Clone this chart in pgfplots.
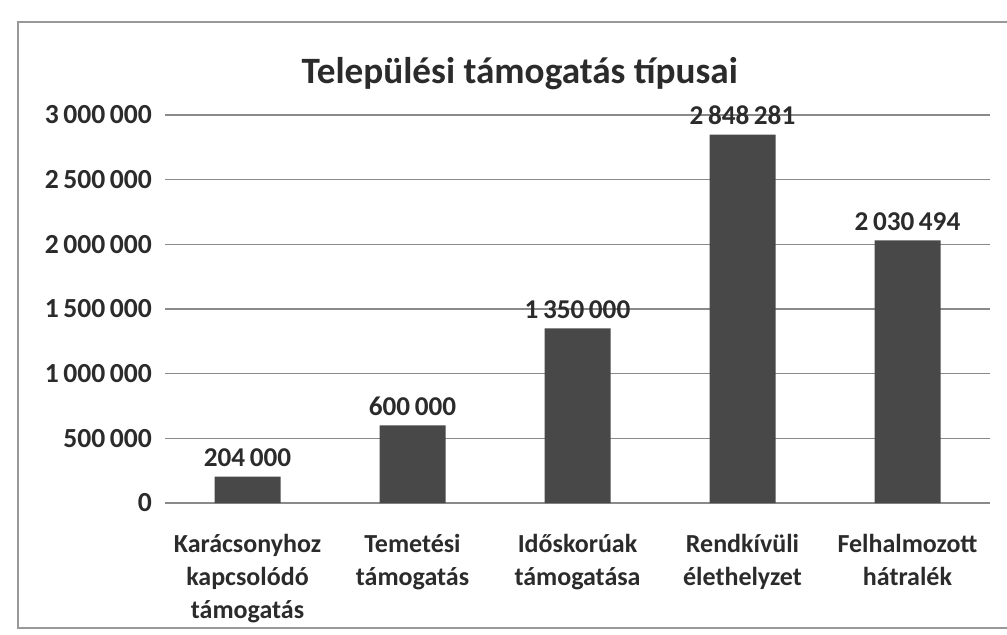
\documentclass[border=0pt]{standalone}
\usepackage{fontspec}
\setmainfont{Carlito}
\usepackage{pgfplots}
\pgfplotsset{compat=1.18}
\definecolor{barc}{HTML}{484848}
\definecolor{gridc}{HTML}{8A8A8A}
\definecolor{txt}{HTML}{2B2B2B}
\begin{document}
\begin{tikzpicture}
\useasboundingbox (0,0) rectangle (503.5pt,317pt);
\draw[gray!80, line width=0.6pt] (9pt,3pt) rectangle (520pt,306pt);
\begin{axis}[
  at={(82.5pt,65.5pt)}, anchor=south west,
  scale only axis, width=412.5pt, height=194pt,
  ymin=0, ymax=3000000, xmin=-0.5, xmax=4.5,
  ytick={0,500000,1000000,1500000,2000000,2500000,3000000},
  scaled y ticks=false,
  xtick=data,
  xticklabels={{Karácsonyhoz\\kapcsolódó\\támogatás},{Temetési\\támogatás},{Időskorúak\\támogatása},{Rendkívüli\\élethelyzet},{Felhalmozott\\hátralék}},
  major tick length=0pt,
  axis line style={draw=none},
  ymajorgrids, grid style={gridc, line width=0.7pt},
  /pgf/number format/.cd, fixed, precision=0, 1000 sep={\,}, assume math mode=true,
  /pgfplots/.cd,
  yticklabel style={font=\fontsize{13.8}{16.5}\selectfont\bfseries, text=txt, xshift=-3pt},
  xticklabel style={font=\fontsize{13}{16.5}\selectfont\bfseries, text=txt, align=center, yshift=-12pt},
  ybar, bar width=33pt,
  nodes near coords,
  nodes near coords style={font=\fontsize{13.6}{16.5}\selectfont\bfseries, text=txt, yshift=1.5pt},
  title={Települési támogatás típusai},
  title style={font=\fontsize{18.6}{23}\selectfont\bfseries, text=txt, at={(0.43,1)}, anchor=center, yshift=14.5pt},
]
\addplot[fill=barc, draw=none] coordinates {(0,204000) (1,600000) (2,1350000) (3,2848281) (4,2030494)};
\end{axis}
\end{tikzpicture}
\end{document}
